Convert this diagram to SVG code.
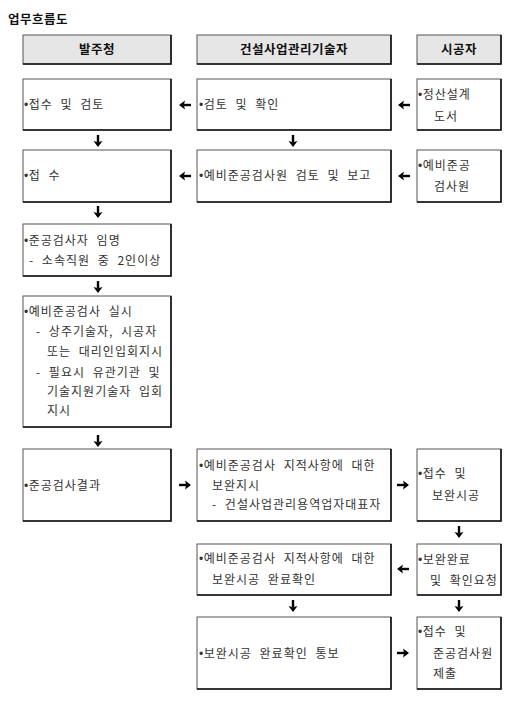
<svg xmlns="http://www.w3.org/2000/svg" width="520" height="703" viewBox="0 0 520 703">
<style>
.bx{fill:#fff;stroke:#555;stroke-width:1}
.hd{fill:#e6e6e6;stroke:#555;stroke-width:1}
.sh{fill:none;stroke:#111;stroke-width:1.6}
text{font-family:"Noto Sans CJK KR","Noto Sans",sans-serif;font-size:12px;fill:#333;letter-spacing:1px;word-spacing:4px}
.b{font-weight:bold;fill:#111;font-size:12.5px;word-spacing:0;letter-spacing:0.5px}
.h{text-anchor:middle}
.d{font-family:"Liberation Sans",sans-serif;letter-spacing:0.5px}
</style>
<defs>
<g id="ar">
<path d="M-6,0 H1" stroke="#000" stroke-width="2.4" fill="none"/>
<path d="M6,0 L0,-4.5 L1.2,0 L0,4.5 Z" fill="#000"/>
</g>
</defs>
<rect width="520" height="703" fill="#fff"/>
<text class="b" x="8" y="24">업무흐름도</text>

<g id="h1"><rect class="hd" x="23" y="35" width="148" height="29"/><path class="sh" d="M171,35 V64 H23"/><text class="b h" x="97" y="54">발주청</text></g>
<g id="h2"><rect class="hd" x="197" y="35" width="194" height="29"/><path class="sh" d="M391,35 V64 H197"/><text class="b h" x="294" y="54">건설사업관리기술자</text></g>
<g id="h3"><rect class="hd" x="417" y="35" width="84" height="29"/><path class="sh" d="M501,35 V64 H417"/><text class="b h" x="459" y="54">시공자</text></g>

<g id="a1"><rect class="bx" x="23" y="79" width="148" height="51"/><path class="sh" d="M171,79 V130 H23"/><text x="24" y="109"><tspan class="d">•</tspan>접수 및 검토</text></g>
<g id="b1"><rect class="bx" x="197" y="79" width="194" height="51"/><path class="sh" d="M391,79 V130 H197"/><text x="199" y="109"><tspan class="d">•</tspan>검토 및 확인</text></g>
<g id="c1"><rect class="bx" x="417" y="79" width="84" height="51"/><path class="sh" d="M501,79 V130 H417"/><text x="418" y="99"><tspan class="d">•</tspan>정산설계</text><text x="434" y="121">도서</text></g>

<g id="a2"><rect class="bx" x="23" y="150" width="148" height="52"/><path class="sh" d="M171,150 V202 H23"/><text x="24" y="180"><tspan class="d">•</tspan>접 수</text></g>
<g id="b2"><rect class="bx" x="197" y="150" width="194" height="52"/><path class="sh" d="M391,150 V202 H197"/><text x="199" y="180"><tspan class="d">•</tspan>예비준공검사원 검토 및 보고</text></g>
<g id="c2"><rect class="bx" x="417" y="150" width="84" height="52"/><path class="sh" d="M501,150 V202 H417"/><text x="418" y="170"><tspan class="d">•</tspan>예비준공</text><text x="434" y="191">검사원</text></g>

<g id="a3"><rect class="bx" x="23" y="224" width="148" height="52"/><path class="sh" d="M171,224 V276 H23"/><text x="24" y="245"><tspan class="d">•</tspan>준공검사자 임명</text><text x="29" y="265">- 소속직원 중 2인이상</text></g>

<g id="a4"><rect class="bx" x="23" y="296" width="148" height="131"/><path class="sh" d="M171,296 V427 H23"/>
<text x="24" y="316"><tspan class="d">•</tspan>예비준공검사 실시</text>
<text x="36" y="336">- 상주기술자, 시공자</text>
<text x="47" y="356">또는 대리인입회지시</text>
<text x="36" y="377">- 필요시 유관기관 및</text>
<text x="47" y="396">기술지원기술자 입회</text>
<text x="47" y="415">지시</text></g>

<g id="a5"><rect class="bx" x="23" y="449" width="148" height="72"/><path class="sh" d="M171,449 V521 H23"/><text x="24" y="490"><tspan class="d">•</tspan>준공검사결과</text></g>
<g id="b5"><rect class="bx" x="197" y="449" width="194" height="72"/><path class="sh" d="M391,449 V521 H197"/><text x="199" y="470"><tspan class="d">•</tspan>예비준공검사 지적사항에 대한</text><text x="212" y="490">보완지시</text><text x="212" y="509">- 건설사업관리용역업자대표자</text></g>
<g id="c5"><rect class="bx" x="417" y="449" width="84" height="72"/><path class="sh" d="M501,449 V521 H417"/><text x="418" y="478"><tspan class="d">•</tspan>접수 및</text><text x="432" y="500">보완시공</text></g>

<g id="b6"><rect class="bx" x="197" y="544" width="194" height="51"/><path class="sh" d="M391,544 V595 H197"/><text x="199" y="563"><tspan class="d">•</tspan>예비준공검사 지적사항에 대한</text><text x="212" y="584">보완시공 완료확인</text></g>
<g id="c6"><rect class="bx" x="417" y="544" width="84" height="51"/><path class="sh" d="M501,544 V595 H417"/><text x="418" y="564"><tspan class="d">•</tspan>보완완료</text><text x="430" y="585">및 확인요청</text></g>

<g id="b7"><rect class="bx" x="197" y="617" width="194" height="72"/><path class="sh" d="M391,617 V689 H197"/><text x="199" y="658"><tspan class="d">•</tspan>보완시공 완료확인 통보</text></g>
<g id="c7"><rect class="bx" x="417" y="617" width="84" height="72"/><path class="sh" d="M501,617 V689 H417"/><text x="418" y="636"><tspan class="d">•</tspan>접수 및</text><text x="433" y="658">준공검사원</text><text x="433" y="678">제출</text></g>

<g id="connectors">
<use href="#ar" transform="translate(185,105) rotate(180)"/>
<use href="#ar" transform="translate(404,105) rotate(180)"/>
<use href="#ar" transform="translate(98,141) rotate(90)"/>
<use href="#ar" transform="translate(293,141) rotate(90)"/>
<use href="#ar" transform="translate(185,176) rotate(180)"/>
<use href="#ar" transform="translate(404,176) rotate(180)"/>
<use href="#ar" transform="translate(98,212) rotate(90)"/>
<use href="#ar" transform="translate(98,287) rotate(90)"/>
<use href="#ar" transform="translate(98,441) rotate(90)"/>
<use href="#ar" transform="translate(185,485)"/>
<use href="#ar" transform="translate(403,485)"/>
<use href="#ar" transform="translate(459,532) rotate(90)"/>
<use href="#ar" transform="translate(403,569) rotate(180)"/>
<use href="#ar" transform="translate(293,606) rotate(90)"/>
<use href="#ar" transform="translate(459,606) rotate(90)"/>
<use href="#ar" transform="translate(403,653)"/>
</g>
</svg>
